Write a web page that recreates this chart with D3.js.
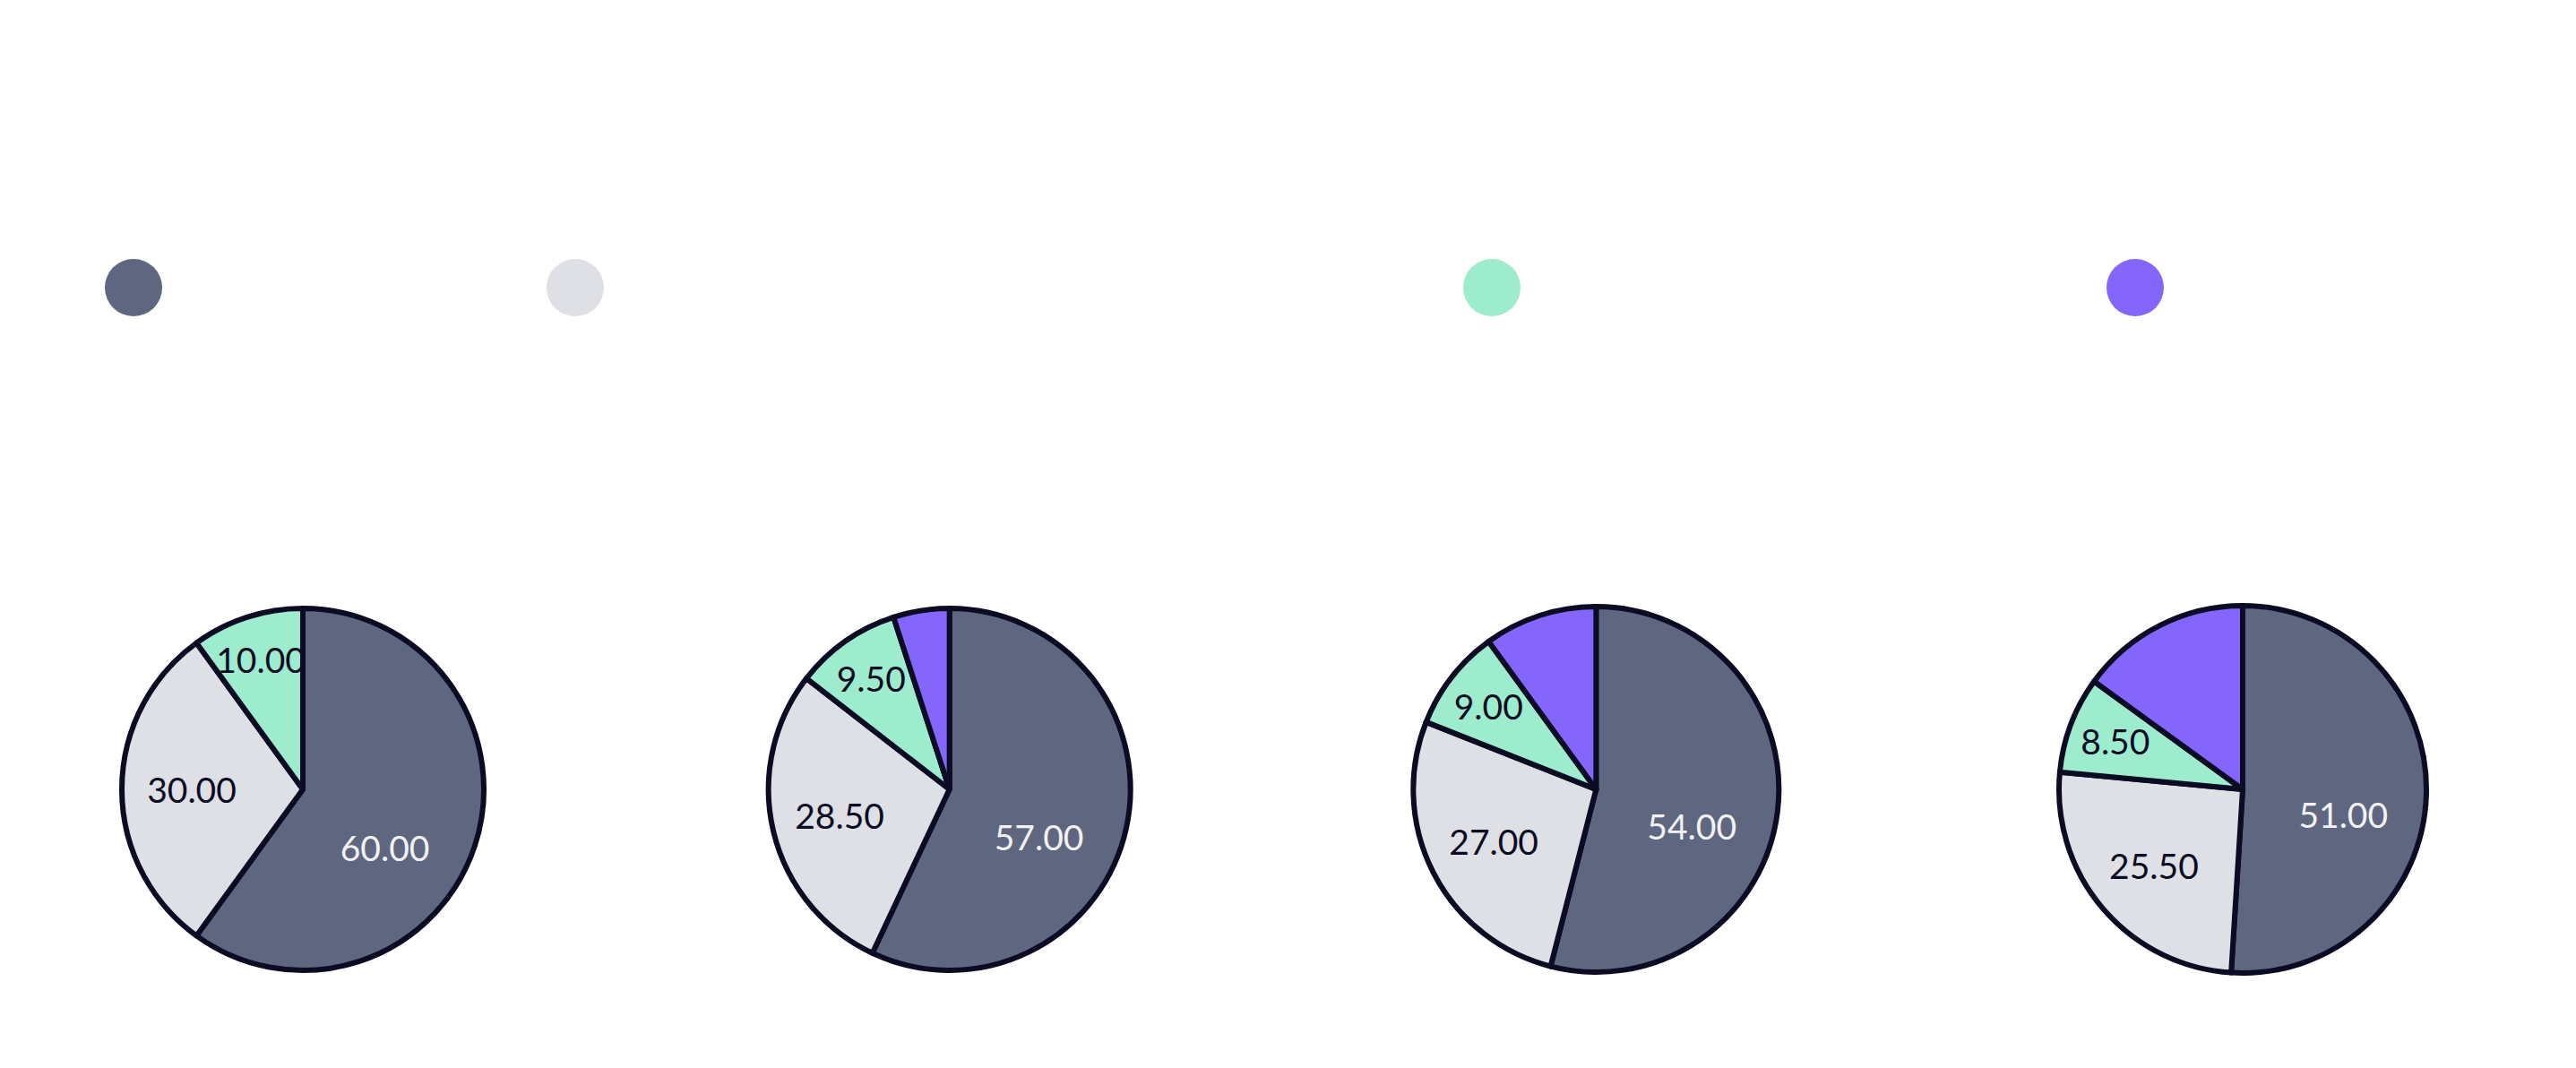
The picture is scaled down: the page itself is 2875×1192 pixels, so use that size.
<!DOCTYPE html>
<html>
<head>
<meta charset="utf-8">
<script src="https://cdn.jsdelivr.net/npm/d3@7"></script>
<style>
  html, body { margin: 0; padding: 0; background: #ffffff; }
  svg { display: block; font-family: Lato, "Noto Sans", sans-serif; }
</style>
</head>
<body>
<div id="chart"></div>
<script>
// ── Data ─────────────────────────────────────────────────────────────────
const categories = ['A', 'B', 'C', 'D'];
const pies       = ['p1', 'p2', 'p3', 'p4'];
const seriesA = [60, 57, 54, 51];
const seriesB = [30, 28.5, 27, 25.5];
const seriesC = [10, 9.5, 9, 8.5];
const seriesD = [0, 5, 10, 15];
const showLabel = [true, true, true, false];

// ── Style ────────────────────────────────────────────────────────────────
const COLORS = ['#5f6780', '#dfe0e5', '#9decce', '#8466fd'];
const LABEL_COLORS = ['#f2f2f4', '#0c0b24', '#0c0b24', '#0c0b24'];
const STROKE = '#0c0b24';

const width = 2875, height = 1192;
const radii = [202, 202, 204, 205];

const svg = d3.select('#chart').append('svg')
  .attr('width', width)
  .attr('height', height);

// ── Legend ───────────────────────────────────────────────────────────────
const legendX = [149, 642, 1665, 2383];
const legendY = 321;

svg.append('g').attr('class', 'legend')
  .selectAll('circle')
  .data(categories)
  .join('circle')
  .attr('cx', (d, i) => legendX[i])
  .attr('cy', legendY)
  .attr('r', 32)
  .attr('fill', (d, i) => COLORS[i]);

// ── Pies ─────────────────────────────────────────────────────────────────
const x = d3.scalePoint().domain(pies).range([338, 2503]);
const cy = 881;

const pie = d3.pie().sort(null).value(d => d.value);

// label distance from centre by slice share
const labelR = d3.scaleLinear().domain([0.1, 0.3, 0.6]).range([152, 124, 112]).clamp(true);
// big slice label sits a bit further round the slice
const labelTurn = d3.scaleLinear().domain([0.3, 0.6]).range([0, 0.3]).clamp(true);

pies.forEach((p, j) => {
  const rows = categories.map((c, i) => ({
    cat: c,
    idx: i,
    value: [seriesA, seriesB, seriesC, seriesD][i][j],
  }));
  const arcs = pie(rows);
  const total = d3.sum(rows, d => d.value);
  const arc = d3.arc().innerRadius(0).outerRadius(radii[j]);

  const g = svg.append('g')
    .attr('class', 'pie')
    .attr('transform', `translate(${x(p)},${cy})`);

  g.selectAll('path')
    .data(arcs.filter(a => a.data.value > 0))
    .join('path')
    .attr('d', arc)
    .attr('fill', d => COLORS[d.data.idx])
    .attr('stroke', STROKE)
    .attr('stroke-width', 6)
    .attr('stroke-linejoin', 'round');

  g.selectAll('text')
    .data(arcs.filter(a => a.data.value > 0 && showLabel[a.data.idx]))
    .join('text')
    .attr('transform', d => {
      const share = d.data.value / total;
      const r = labelR(share);
      const a = (d.startAngle + d.endAngle) / 2 + labelTurn(share);
      return `translate(${r * Math.sin(a)},${-r * Math.cos(a)})`;
    })
    .attr('text-anchor', 'middle')
    .attr('dominant-baseline', 'central')
    .attr('font-size', 39)
    .attr('font-weight', 400)
    .attr('fill', d => LABEL_COLORS[d.data.idx])
    .text(d => d.data.value.toFixed(2));
});
</script>
</body>
</html>
